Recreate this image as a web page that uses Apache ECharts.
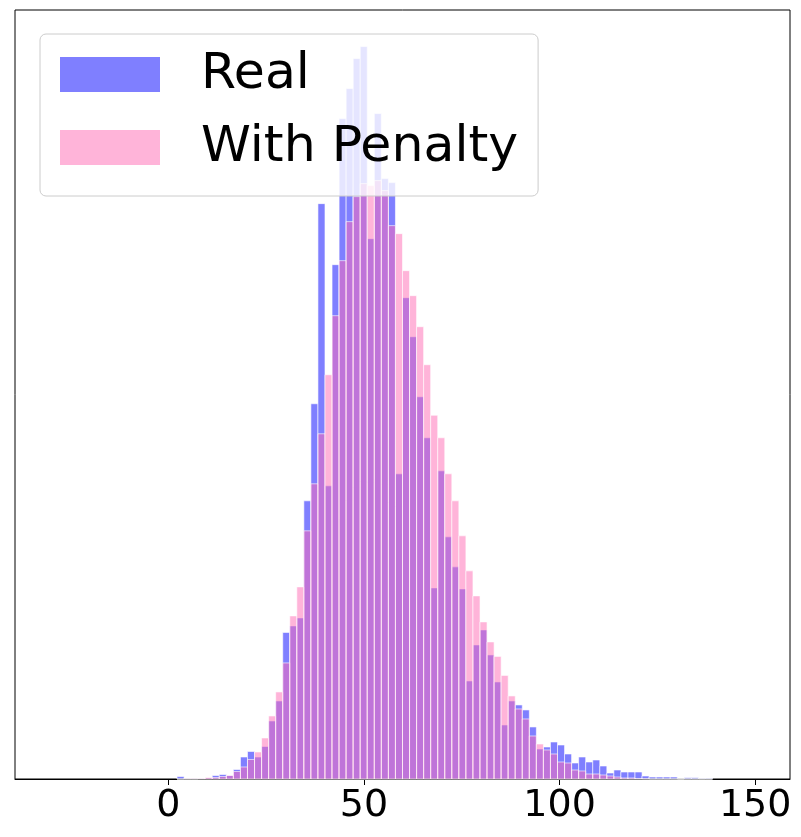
<!DOCTYPE html>
<html>
<head>
<meta charset="utf-8">
<script src="https://cdn.jsdelivr.net/npm/echarts@6/dist/echarts.min.js"></script>
<style>html,body{margin:0;padding:0;background:#fff}#chart{width:801px;height:837px}</style>
</head>
<body>
<div id="chart"></div>
<script>
// Histogram bins: 100 equal bins over [-30.2, 149.9]; values below start at bin 18
const binStart = -30.2;
const binWidth = 1.801;
const firstBin = 18;
const seriesNames = ["Real", "With Penalty"];
const xTickValues = [0, 50, 100, 150];
// bar heights (relative units)
const realCounts = [2.5,0.3,0.3,0.5,1,3.5,4.5,3.5,9.5,22,27.5,22,32.5,58,78,146.5,153,161,278,375,
  575,293,514,660,690,720,732,540,665,600,596,305,481,442,382,341,191,308,242,212,
  190,98,134,149,124,97,54,78,74,69,52,30,32,37,34,25,16,22,17,19,
  13,6,9,7,7,7,3,2,2,2,2,0,1.3,1.3,0.4,0.7];
const penaltyCounts = [0,0.3,0.3,0.5,1.5,1.5,2.5,3.5,7.5,12,19.5,27,41,63,87,116,163,192,248,295,
  345,404,463,518,557,582,595,593,598,588,553,545,508,483,452,414,363.5,341,305,278,
  243,208,183,157,137,122.5,103.5,83,70,60,43,35,29,25,17,16,9,8,5,5,
  4,3,2,1,1,0.5,0.3,0,0,0,0,0,0,0,0,0];

function toBins(arr){
  return arr.map((v,i)=>{
    const left = binStart + (firstBin + i) * binWidth;
    return [left, left + binWidth, v];
  });
}
function renderBar(params, api){
  const x0 = api.value(0), x1 = api.value(1), h = api.value(2);
  const pTop = api.coord([x0, h]);
  const pBot = api.coord([x1, 0]);
  return {
    type: 'rect',
    shape: {x: pTop[0], y: pTop[1], width: pBot[0]-pTop[0], height: pBot[1]-pTop[1]},
    style: api.style({stroke: 'rgba(255,255,255,0.6)', lineWidth: 1})
  };
}
const chart = echarts.init(document.getElementById('chart'), null, {renderer:'canvas'});
chart.setOption({
  animation: false,
  backgroundColor: '#fff',
  grid: {left: 15, top: 10, right: 11, bottom: 58, show: true, borderColor: '#000', borderWidth: 1, backgroundColor: 'transparent'},
  xAxis: {
    type: 'value', min: -39.2, max: 158.9,
    axisLine: {show: true, lineStyle: {color: '#000', width: 1}},
    axisTick: {show: true, customValues: xTickValues, length: 6, lineStyle: {color: '#000', width: 1}},
    axisLabel: {show: true, customValues: xTickValues, fontSize: 38, color: '#000', fontFamily: 'DejaVu Sans', margin: 8},
    splitLine: {show: false}
  },
  yAxis: {
    type: 'value', min: 0, max: 768.5,
    axisLine: {show: false}, axisTick: {show: false}, axisLabel: {show: false}, splitLine: {show: false}
  },
  legend: {
    left: 40, top: 34,
    orient: 'vertical',
    padding: [10, 20, 18, 20],
    itemWidth: 100, itemHeight: 35, itemGap: 12,
    backgroundColor: 'rgba(255,255,255,0.8)',
    borderColor: '#cccccc', borderWidth: 1, borderRadius: 6,
    icon: 'rect',
    textStyle: {fontSize: 50.5, lineHeight: 61, fontFamily: 'DejaVu Sans', color: '#000', padding: [0,0,0,36]},
    data: seriesNames
  },
  series: [
    {name: seriesNames[0], type: 'custom', renderItem: renderBar,
     itemStyle: {color: 'rgba(0,0,255,0.5)'},
     encode: {x: [0,1], y: 2}, data: toBins(realCounts)},
    {name: seriesNames[1], type: 'custom', renderItem: renderBar,
     itemStyle: {color: 'rgba(255,105,180,0.5)'},
     encode: {x: [0,1], y: 2}, data: toBins(penaltyCounts)}
  ]
});
</script>
</body>
</html>
